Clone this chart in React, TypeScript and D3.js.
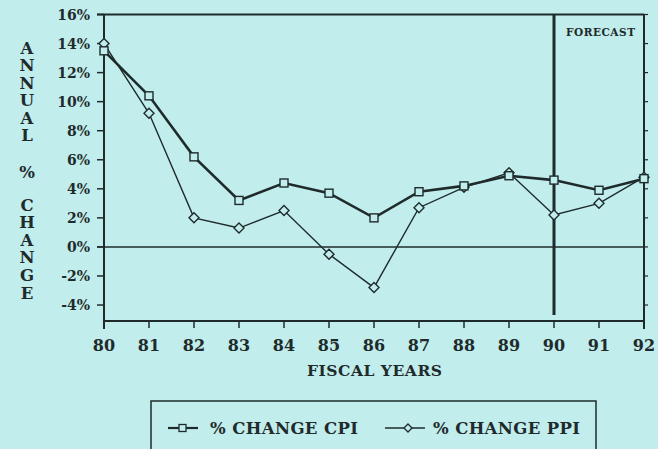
import React from "react";
import * as d3 from "d3";

const years = [80, 81, 82, 83, 84, 85, 86, 87, 88, 89, 90, 91, 92];
const cpi = [13.5, 10.4, 6.2, 3.2, 4.4, 3.7, 2.0, 3.8, 4.2, 4.9, 4.6, 3.9, 4.7];
const ppi = [14.0, 9.2, 2.0, 1.3, 2.5, -0.5, -2.8, 2.7, 4.1, 5.1, 2.2, 3.0, 4.8];
const yTicks = [16, 14, 12, 10, 8, 6, 4, 2, 0, -2, -4];
const yTitleTop = ["A", "N", "N", "U", "A", "L"];
const yTitleMid = ["%"];
const yTitleBot = ["C", "H", "A", "N", "G", "E"];
const forecastYear = 90;

const W = 658;
const H = 449;
const BG = "#c1eded";
const INK = "#1f2b2b";
const FONT = "'DejaVu Serif', serif";

export default function App() {
  const x = d3.scaleLinear().domain([80, 92]).range([104, 644]);
  const y = d3.scaleLinear().domain([-5.1, 16]).range([321, 14.5]);
  const line = d3
    .line<number>()
    .x((_, i) => x(years[i]))
    .y((d) => y(d));

  const diamond = (cx: number, cy: number, r: number) =>
    `M${cx},${cy - r}L${cx + r},${cy}L${cx},${cy + r}L${cx - r},${cy}Z`;

  const titleLetters = [
    ...yTitleTop.map((c, i) => ({ c, yy: 48 + i * 17.5 })),
    ...yTitleMid.map((c) => ({ c, yy: 172 })),
    ...yTitleBot.map((c, i) => ({ c, yy: 205 + i * 17.6 })),
  ];

  return (
    <div style={{ position: "absolute", left: 0, top: 0 }}>
      <svg width={W} height={H} style={{ display: "block" }}>
        <rect x={0} y={0} width={W} height={H} fill={BG} />
        {/* y title */}
        {titleLetters.map((t, i) => (
          <text
            key={i}
            x={27}
            y={t.yy}
            textAnchor="middle"
            dominantBaseline="central"
            fontFamily={FONT}
            fontWeight="bold"
            fontSize={16.5}
            fill={INK}
          >
            {t.c}
          </text>
        ))}
        {/* y tick labels & ticks */}
        {yTicks.map((t) => (
          <g key={t}>
            <text
              x={90}
              y={y(t)}
              textAnchor="end"
              dominantBaseline="central"
              fontFamily={FONT}
              fontWeight="bold"
              fontSize={14}
              fill={INK}
            >
              {t}%
            </text>
            <line x1={97} x2={104} y1={y(t)} y2={y(t)} stroke={INK} strokeWidth={1.5} />
            <line x1={644} x2={648} y1={y(t)} y2={y(t)} stroke={INK} strokeWidth={1.2} />
          </g>
        ))}
        {/* frame */}
        <line x1={97} x2={644} y1={y(16)} y2={y(16)} stroke={INK} strokeWidth={2} />
        <line x1={104} x2={104} y1={y(16)} y2={329} stroke={INK} strokeWidth={2} />
        <line x1={644} x2={644} y1={y(16)} y2={329} stroke={INK} strokeWidth={2} />
        <line x1={104} x2={644} y1={321} y2={321} stroke={INK} strokeWidth={2} />
        <line x1={97} x2={644} y1={y(0)} y2={y(0)} stroke={INK} strokeWidth={1.5} />
        {/* x ticks */}
        {years.map((yr) => (
          <g key={yr}>
            <line x1={x(yr)} x2={x(yr)} y1={321} y2={328} stroke={INK} strokeWidth={1.5} />
            <text
              x={x(yr)}
              y={345}
              textAnchor="middle"
              dominantBaseline="central"
              fontFamily={FONT}
              fontWeight="bold"
              fontSize={16}
              fill={INK}
            >
              {yr}
            </text>
          </g>
        ))}
        <text
          x={307}
          y={370}
          textLength={135}
          lengthAdjust="spacing"
          dominantBaseline="central"
          fontFamily={FONT}
          fontWeight="bold"
          fontSize={15.5}
          fill={INK}
        >
          FISCAL YEARS
        </text>
        {/* forecast */}
        <line
          x1={x(forecastYear)}
          x2={x(forecastYear)}
          y1={y(16)}
          y2={315}
          stroke={INK}
          strokeWidth={3}
        />
        <text
          x={566}
          y={32}
          textLength={69}
          lengthAdjust="spacing"
          dominantBaseline="central"
          fontFamily={FONT}
          fontWeight="bold"
          fontSize={10.5}
          fill={INK}
        >
          FORECAST
        </text>
        {/* series */}
        <path d={line(ppi) || ""} fill="none" stroke={INK} strokeWidth={1.4} />
        <path d={line(cpi) || ""} fill="none" stroke={INK} strokeWidth={2.6} />
        {ppi.map((v, i) => (
          <path
            key={"p" + i}
            d={diamond(x(years[i]), y(v), 5)}
            fill={BG}
            stroke={INK}
            strokeWidth={1.4}
          />
        ))}
        {cpi.map((v, i) => (
          <rect
            key={"c" + i}
            x={x(years[i]) - 4}
            y={y(v) - 4}
            width={8}
            height={8}
            fill={BG}
            stroke={INK}
            strokeWidth={1.4}
          />
        ))}
        {/* legend */}
        <rect x={151} y={401} width={445} height={60} fill="none" stroke={INK} strokeWidth={1.5} />
        <line x1={168} x2={198} y1={428} y2={428} stroke={INK} strokeWidth={2.2} />
        <rect x={179} y={424.5} width={7} height={7} fill={BG} stroke={INK} strokeWidth={1.3} />
        <text
          x={210}
          y={428}
          textLength={148}
          lengthAdjust="spacing"
          dominantBaseline="central"
          fontFamily={FONT}
          fontWeight="bold"
          fontSize={16.5}
          fill={INK}
        >
          % CHANGE CPI
        </text>
        <line x1={385} x2={425} y1={428} y2={428} stroke={INK} strokeWidth={1.3} />
        <path d={diamond(408, 428, 4)} fill={BG} stroke={INK} strokeWidth={1.3} />
        <text
          x={433}
          y={428}
          textLength={147}
          lengthAdjust="spacing"
          dominantBaseline="central"
          fontFamily={FONT}
          fontWeight="bold"
          fontSize={16.5}
          fill={INK}
        >
          % CHANGE PPI
        </text>
      </svg>
    </div>
  );
}
